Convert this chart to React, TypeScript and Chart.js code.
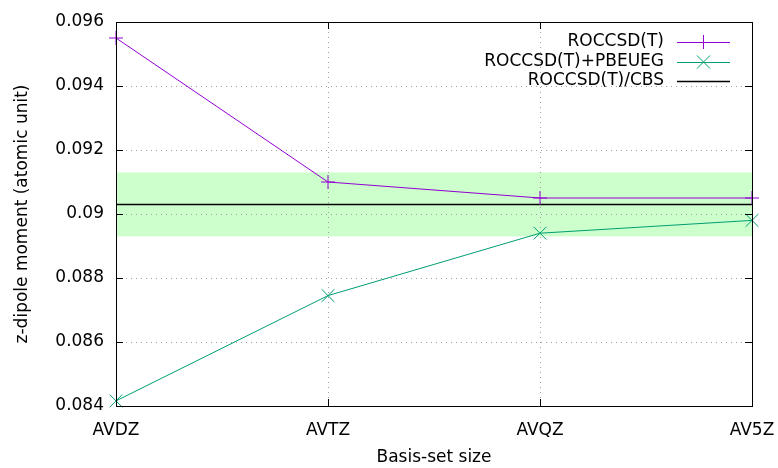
import React, { useEffect, useRef } from "react";
import { Chart, registerables } from "chart.js";

Chart.register(...registerables);

const categories = ["AVDZ", "AVTZ", "AVQZ", "AV5Z"];
const roccsdt = [0.0955, 0.091, 0.0905, 0.0905];
const pbeueg = [0.08416, 0.08745, 0.0894, 0.0898];
const cbsValue = 0.0903;
const bandUpper = 0.0913;
const bandLower = 0.0893;
const yTickValues = [0.084, 0.086, 0.088, 0.09, 0.092, 0.094, 0.096];
const seriesLabels = ["ROCCSD(T)", "ROCCSD(T)+PBEUEG", "ROCCSD(T)/CBS"];

const FONT = "'DejaVu Sans', sans-serif";
const FS = 17;

const framePlugin = {
  id: "gnuFrame",
  beforeDraw(chart: any) {
    const { ctx, chartArea, scales } = chart;
    ctx.save();
    ctx.fillStyle = "#ffffff";
    ctx.fillRect(0, 0, chart.width, chart.height);
    const yT = scales.y.getPixelForValue(bandUpper);
    const yB = scales.y.getPixelForValue(bandLower);
    ctx.fillStyle = "#ccffcc";
    ctx.fillRect(chartArea.left, yT, chartArea.right - chartArea.left, yB - yT);
    ctx.restore();
  },
  afterDraw(chart: any) {
    const { ctx, chartArea, scales } = chart;
    const { left, right, top, bottom } = chartArea;
    ctx.save();
    ctx.strokeStyle = "#000000";
    ctx.lineWidth = 1;
    ctx.beginPath();
    const tl = 7;
    scales.y.ticks.forEach((t: any) => {
      const y = Math.round(scales.y.getPixelForValue(t.value)) + 0.5;
      ctx.moveTo(left, y);
      ctx.lineTo(left + tl, y);
      ctx.moveTo(right, y);
      ctx.lineTo(right - tl, y);
    });
    scales.x.ticks.forEach((t: any, i: number) => {
      const x = Math.round(scales.x.getPixelForTick(i)) + 0.5;
      ctx.moveTo(x, bottom);
      ctx.lineTo(x, bottom - tl);
      ctx.moveTo(x, top);
      ctx.lineTo(x, top + tl);
    });
    ctx.stroke();
    ctx.strokeRect(Math.round(left) + 0.5, Math.round(top) + 0.5, Math.round(right - left), Math.round(bottom - top));

    // legend
    ctx.font = `${FS}px ${FONT}`;
    ctx.textAlign = "right";
    ctx.textBaseline = "middle";
    const textRight = 664;
    const lineX0 = 677;
    const lineX1 = 730;
    const rows = [42, 62, 81];
    const ds = chart.data.datasets;
    const entries = [ds[0], ds[1], ds[2]];
    entries.forEach((d: any, i: number) => {
      const y = rows[i];
      ctx.fillStyle = "#000000";
      ctx.fillText(seriesLabels[i], textRight, y);
      ctx.strokeStyle = d.borderColor;
      ctx.lineWidth = d.borderWidth;
      ctx.beginPath();
      ctx.moveTo(lineX0, y + 0.5);
      ctx.lineTo(lineX1, y + 0.5);
      ctx.stroke();
      const cx = (lineX0 + lineX1) / 2;
      if (d.pointStyle === "cross") {
        const r = 7;
        ctx.beginPath();
        ctx.moveTo(cx - r, y + 0.5);
        ctx.lineTo(cx + r, y + 0.5);
        ctx.moveTo(cx, y - r);
        ctx.lineTo(cx, y + r);
        ctx.stroke();
      } else if (d.pointStyle === "crossRot") {
        const k = 6.5;
        ctx.beginPath();
        ctx.moveTo(cx - k, y - k);
        ctx.lineTo(cx + k, y + k);
        ctx.moveTo(cx - k, y + k);
        ctx.lineTo(cx + k, y - k);
        ctx.stroke();
      }
    });
    ctx.restore();
  },
};

export default function App() {
  const ref = useRef<HTMLCanvasElement | null>(null);
  useEffect(() => {
    if (!ref.current) return;
    const chart = new Chart(ref.current, {
      type: "line",
      data: {
        labels: categories,
        datasets: [
          {
            label: seriesLabels[0],
            data: roccsdt,
            borderColor: "#9400d3",
            backgroundColor: "#9400d3",
            borderWidth: 1,
            pointStyle: "cross",
            pointRadius: 7,
            pointBorderWidth: 1,
            tension: 0,
            clip: false,
          },
          {
            label: seriesLabels[1],
            data: pbeueg,
            borderColor: "#009e73",
            backgroundColor: "#009e73",
            borderWidth: 1,
            pointStyle: "crossRot",
            pointRadius: 9,
            pointBorderWidth: 1,
            tension: 0,
            clip: false,
          },
          {
            label: seriesLabels[2],
            data: categories.map(() => cbsValue),
            borderColor: "#000000",
            backgroundColor: "#000000",
            borderWidth: 1.5,
            pointRadius: 0,
            tension: 0,
          },
        ],
      },
      options: {
        animation: false,
        responsive: true,
        maintainAspectRatio: false,
        layout: { padding: { top: 22, right: 26, left: 0, bottom: 0 } },
        plugins: { legend: { display: false }, tooltip: { enabled: false } },
        scales: {
          x: {
            type: "category",
            offset: false,
            grid: {
              display: true,
              color: "#a0a0a0",
              lineWidth: 1,
              drawTicks: false,
            },
            border: { display: false, dash: [1, 4] },
            ticks: {
              color: "#000000",
              font: { family: FONT, size: FS },
              padding: 14,
              maxRotation: 0,
            },
            title: {
              display: true,
              text: "Basis-set size",
              color: "#000000",
              font: { family: FONT, size: FS },
              padding: { top: 0, bottom: 0 },
            },
            afterFit(scale: any) {
              scale.height = 62;
              scale.paddingLeft = 0;
              scale.paddingRight = 0;
            },
          },
          y: {
            min: 0.084,
            max: 0.096,
            grid: {
              color: "#a0a0a0",
              lineWidth: 1,
              drawTicks: false,
            },
            border: { display: false, dash: [1, 4] },
            ticks: {
              color: "#000000",
              font: { family: FONT, size: FS },
              padding: 12,
              callback: (v: any) => String(Number(Number(v).toFixed(4))),
            },
            afterBuildTicks(scale: any) {
              scale.ticks = yTickValues.map((v) => ({ value: v }));
            },
            title: {
              display: true,
              text: "z-dipole moment (atomic unit)",
              color: "#000000",
              font: { family: FONT, size: FS },
              padding: { top: 12, bottom: 0 },
            },
            afterFit(scale: any) {
              scale.width = 116;
              scale.paddingTop = 0;
              scale.paddingBottom = 0;
            },
          },
        },
      },
      plugins: [framePlugin],
    } as any);
    return () => chart.destroy();
  }, []);
  return (
    <div style={{ position: "absolute", left: 0, top: 0, width: 778, height: 468 }}>
      <canvas ref={ref} />
    </div>
  );
}
